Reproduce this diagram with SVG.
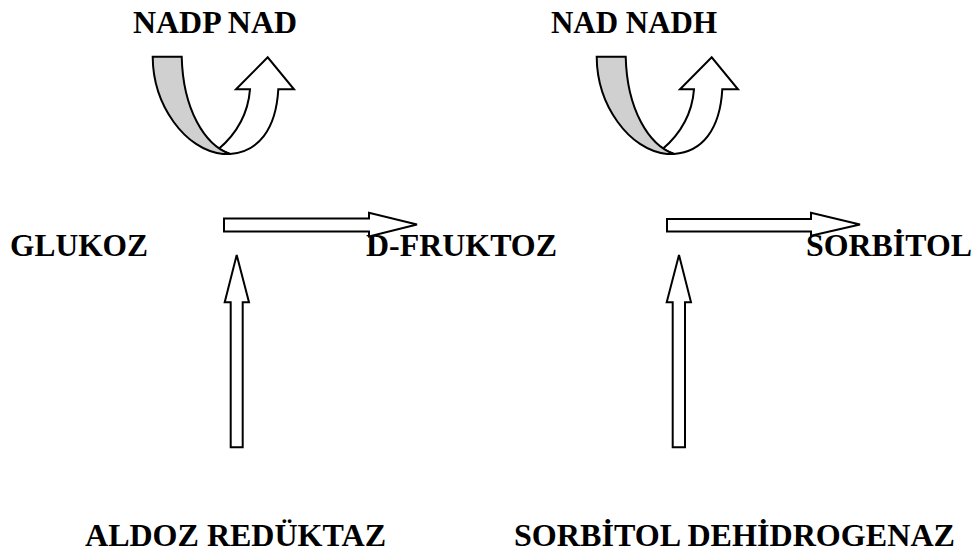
<svg xmlns="http://www.w3.org/2000/svg" xmlns:xlink="http://www.w3.org/1999/xlink" width="976" height="556" viewBox="0 0 976 556">
<style>
.t{font-family:"Liberation Serif","Times New Roman",serif;font-weight:700;font-size:32px;fill:#000}
.arr{fill:#fff;stroke:#000;stroke-width:2;stroke-linejoin:miter}
.band{fill:#d0d0d0;stroke:#000;stroke-width:2}
</style>
<defs>
<g id="uturn">
<path class="arr" d="M218.3,149.3 C235,135 248,115 250,89.3 L236,89.3 L267.7,57.3 L294,89.3 L278.3,89.3 C276,130 258,152 230,154 Z"/>
<path class="band" d="M152.7,56.7 L181.7,56.7 C183,110 205,145 230,154 L223,154 C185,150 153,105 152.7,56.7 Z"/>
</g>
</defs>
<g id="cofactor1">
<text class="t" x="133" y="33" textLength="164" lengthAdjust="spacingAndGlyphs">NADP NAD</text>
<use xlink:href="#uturn"/>
</g>
<g id="cofactor2">
<text class="t" x="551" y="33" textLength="166" lengthAdjust="spacingAndGlyphs">NAD NADH</text>
<use xlink:href="#uturn" transform="translate(444,0)"/>
</g>
<g id="glukoz"><text class="t" x="10" y="256" textLength="138" lengthAdjust="spacingAndGlyphs">GLUKOZ</text></g>
<g id="dfruktoz"><text class="t" x="366" y="256" textLength="191" lengthAdjust="spacingAndGlyphs">D-FRUKTOZ</text></g>
<g id="sorbitol"><text class="t" x="806" y="256" textLength="166" lengthAdjust="spacingAndGlyphs">SORBİTOL</text></g>
<g id="aldoz"><text class="t" x="85" y="546" textLength="301" lengthAdjust="spacingAndGlyphs">ALDOZ REDÜKTAZ</text></g>
<g id="sdh"><text class="t" x="514" y="546" textLength="441" lengthAdjust="spacingAndGlyphs">SORBİTOL DEHİDROGENAZ</text></g>
<g id="connectors">
<path class="arr" d="M224,218.5 L369,218.5 L369,212.7 L417,224.5 L369,236.5 L369,231.5 L224,231.5 Z"/>
<path class="arr" d="M667,219 L811,219 L811,212.7 L860,224.5 L811,235.7 L811,231.5 L667,231.5 Z"/>
<path class="arr" d="M230.7,447.3 L230.7,302.3 L224.7,302.3 L236.7,255 L249,302.3 L242.7,302.3 L242.7,447.3 Z"/>
<path class="arr" d="M672.7,447.3 L672.7,302.3 L666.7,302.3 L679,255 L691,302.3 L685,302.3 L685,447.3 Z"/>
</g>
</svg>
